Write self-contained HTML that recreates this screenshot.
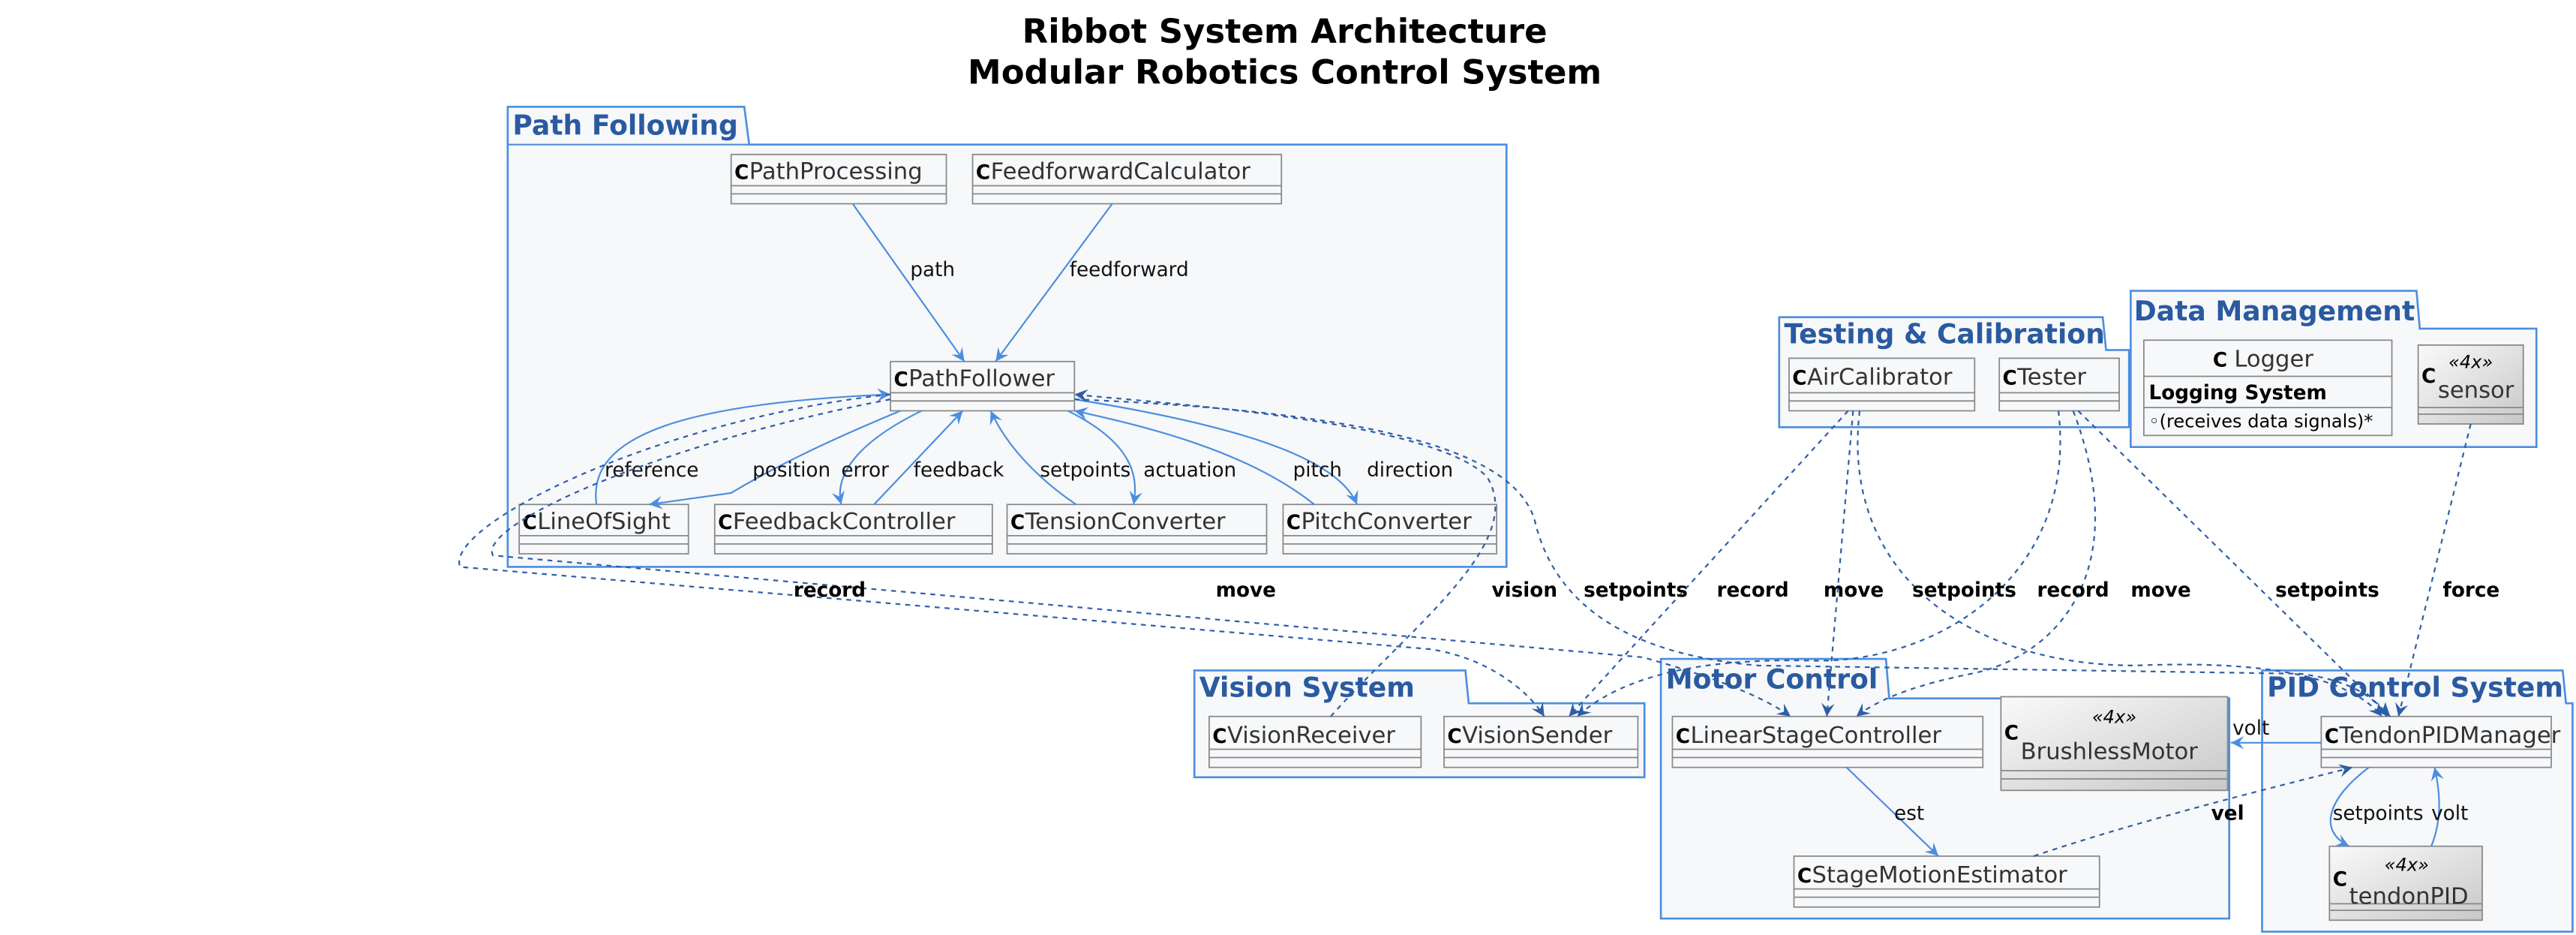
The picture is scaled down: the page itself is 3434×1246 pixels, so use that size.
<!DOCTYPE html>
<html><head><meta charset="utf-8"><style>
html,body{margin:0;padding:0;background:#fff}
svg{display:block}
text{font-family:"DejaVu Sans","Liberation Sans",sans-serif}
.t{font-size:20.5px;font-weight:bold;fill:#000}
.pk{fill:#f7f8fa;stroke:#4a8ee0;stroke-width:1.2}
.pt{font-size:16.5px;font-weight:bold;fill:#2a5aa0}
.cb{fill:#f7f8fa;stroke:#888;stroke-width:0.8}
.cg{stroke:#888;stroke-width:0.8}
.cn{font-size:14px;fill:#333}
.ci{font-size:12px;font-weight:bold;fill:#000}
.l{font-size:12px;fill:#111}
.lb{font-size:12px;font-weight:bold;fill:#000}
.s{fill:none;stroke:#4a8ee0;stroke-width:1}
.d{fill:none;stroke:#2d5ea8;stroke-width:1;stroke-dasharray:3,3}
</style></head><body>
<svg width="3434" height="1246" viewBox="0 0 1568 569" xmlns="http://www.w3.org/2000/svg">
<defs>
<marker id="a" markerWidth="10" markerHeight="10" refX="8" refY="4" orient="auto" markerUnits="userSpaceOnUse"><path d="M0,0 L8,4 L0,8 L3,4 Z" fill="#4a8ee0"/></marker>
<marker id="b" markerWidth="10" markerHeight="10" refX="8" refY="4" orient="auto" markerUnits="userSpaceOnUse"><path d="M0,0 L8,4 L0,8 L3,4 Z" fill="#2d5ea8"/></marker>
<linearGradient id="g" x1="0" y1="0" x2="1" y2="1"><stop offset="0" stop-color="#fafafa"/><stop offset="1" stop-color="#c8c8c8"/></linearGradient>
</defs>
<text class="t" x="782" y="26" text-anchor="middle">Ribbot System Architecture</text>
<text class="t" x="782" y="51" text-anchor="middle">Modular Robotics Control System</text>

<path class="pk" d="M309,88 L309,65 L453,65 L456,88 L917,88 L917,345 L309,345 Z"/>
<line x1="309" y1="88" x2="456" y2="88" stroke="#4a8ee0"/>
<text class="pt" x="312" y="82">Path Following</text>

<path class="pk" d="M1083,213 L1083,193 L1280,193 L1282,213 L1296,213 L1296,260 L1083,260 Z"/>
<text class="pt" x="1086" y="209">Testing &amp; Calibration</text>

<path class="pk" d="M1297,200 L1297,177 L1471,177 L1473,200 L1544,200 L1544,272 L1297,272 Z"/>
<text class="pt" x="1299" y="195">Data Management</text>

<path class="pk" d="M727,428 L727,408 L892,408 L894,428 L1001,428 L1001,473 L727,473 Z"/>
<text class="pt" x="730" y="424">Vision System</text>

<path class="pk" d="M1011,425 L1011,401 L1148,401 L1150,425 L1357,425 L1357,559 L1011,559 Z"/>
<text class="pt" x="1014" y="419">Motor Control</text>

<path class="pk" d="M1377,428 L1377,408 L1560,408 L1562,428 L1566,428 L1566,567 L1377,567 Z"/>
<text class="pt" x="1380" y="424">PID Control System</text>

<g>
<rect class="cb" x="445" y="94" width="131" height="30"/><line class="cg" x1="445" y1="113" x2="576" y2="113"/><line class="cg" x1="445" y1="118" x2="576" y2="118"/>
<text class="ci" x="447" y="109">C</text><text class="cn" x="456" y="109">PathProcessing</text>
<rect class="cb" x="592" y="94" width="188" height="30"/><line class="cg" x1="592" y1="113" x2="780" y2="113"/><line class="cg" x1="592" y1="118" x2="780" y2="118"/>
<text class="ci" x="594" y="109">C</text><text class="cn" x="603" y="109">FeedforwardCalculator</text>
<rect class="cb" x="542" y="220" width="112" height="30"/><line class="cg" x1="542" y1="239" x2="654" y2="239"/><line class="cg" x1="542" y1="244" x2="654" y2="244"/>
<text class="ci" x="544" y="235">C</text><text class="cn" x="553" y="235">PathFollower</text>
<rect class="cb" x="316" y="307" width="103" height="30"/><line class="cg" x1="316" y1="326" x2="419" y2="326"/><line class="cg" x1="316" y1="331" x2="419" y2="331"/>
<text class="ci" x="318" y="322">C</text><text class="cn" x="327" y="322">LineOfSight</text>
<rect class="cb" x="435" y="307" width="169" height="30"/><line class="cg" x1="435" y1="326" x2="604" y2="326"/><line class="cg" x1="435" y1="331" x2="604" y2="331"/>
<text class="ci" x="437" y="322">C</text><text class="cn" x="446" y="322">FeedbackController</text>
<rect class="cb" x="613" y="307" width="158" height="30"/><line class="cg" x1="613" y1="326" x2="771" y2="326"/><line class="cg" x1="613" y1="331" x2="771" y2="331"/>
<text class="ci" x="615" y="322">C</text><text class="cn" x="624" y="322">TensionConverter</text>
<rect class="cb" x="781" y="307" width="130" height="30"/><line class="cg" x1="781" y1="326" x2="911" y2="326"/><line class="cg" x1="781" y1="331" x2="911" y2="331"/>
<text class="ci" x="783" y="322">C</text><text class="cn" x="792" y="322">PitchConverter</text>

<rect class="cb" x="1089" y="218" width="113" height="32"/><line class="cg" x1="1089" y1="239" x2="1202" y2="239"/><line class="cg" x1="1089" y1="244" x2="1202" y2="244"/>
<text class="ci" x="1091" y="234">C</text><text class="cn" x="1100" y="234">AirCalibrator</text>
<rect class="cb" x="1217" y="218" width="73" height="32"/><line class="cg" x1="1217" y1="239" x2="1290" y2="239"/><line class="cg" x1="1217" y1="244" x2="1290" y2="244"/>
<text class="ci" x="1219" y="234">C</text><text class="cn" x="1228" y="234">Tester</text>

<rect class="cb" x="1305" y="207" width="151" height="58"/><line class="cg" x1="1305" y1="229" x2="1456" y2="229"/><line class="cg" x1="1305" y1="248" x2="1456" y2="248"/>
<text class="ci" x="1347" y="223">C</text><text class="cn" x="1360" y="223">Logger</text>
<text x="1308" y="243" style="font-size:12px;font-weight:bold">Logging System</text>
<text x="1308" y="260" style="font-size:11px">◦(receives data signals)*</text>
<rect x="1472" y="210" width="64" height="48" fill="url(#g)" stroke="#888" stroke-width="0.8"/><line class="cg" x1="1472" y1="248" x2="1536" y2="248"/><line class="cg" x1="1472" y1="252" x2="1536" y2="252"/>
<text x="1504" y="224" text-anchor="middle" style="font-size:11px;font-style:italic">«4x»</text>
<text class="ci" x="1474" y="233">C</text><text class="cn" x="1484" y="242">sensor</text>

<rect class="cb" x="736" y="436" width="129" height="31"/><line class="cg" x1="736" y1="456" x2="865" y2="456"/><line class="cg" x1="736" y1="461" x2="865" y2="461"/>
<text class="ci" x="738" y="452">C</text><text class="cn" x="747" y="452">VisionReceiver</text>
<rect class="cb" x="879" y="436" width="118" height="31"/><line class="cg" x1="879" y1="456" x2="997" y2="456"/><line class="cg" x1="879" y1="461" x2="997" y2="461"/>
<text class="ci" x="881" y="452">C</text><text class="cn" x="890" y="452">VisionSender</text>

<rect class="cb" x="1018" y="436" width="189" height="31"/><line class="cg" x1="1018" y1="456" x2="1207" y2="456"/><line class="cg" x1="1018" y1="461" x2="1207" y2="461"/>
<text class="ci" x="1020" y="452">C</text><text class="cn" x="1029" y="452">LinearStageController</text>
<rect x="1218" y="424" width="138" height="57" fill="url(#g)" stroke="#888" stroke-width="0.8"/><line class="cg" x1="1218" y1="469" x2="1356" y2="469"/><line class="cg" x1="1218" y1="474" x2="1356" y2="474"/>
<text x="1287" y="440" text-anchor="middle" style="font-size:11px;font-style:italic">«4x»</text>
<text class="ci" x="1220" y="450">C</text><text class="cn" x="1230" y="462">BrushlessMotor</text>
<rect class="cb" x="1092" y="521" width="186" height="31"/><line class="cg" x1="1092" y1="541" x2="1278" y2="541"/><line class="cg" x1="1092" y1="546" x2="1278" y2="546"/>
<text class="ci" x="1094" y="537">C</text><text class="cn" x="1103" y="537">StageMotionEstimator</text>

<rect class="cb" x="1413" y="436" width="140" height="31"/><line class="cg" x1="1413" y1="456" x2="1553" y2="456"/><line class="cg" x1="1413" y1="461" x2="1553" y2="461"/>
<text class="ci" x="1415" y="452">C</text><text class="cn" x="1424" y="452">TendonPIDManager</text>
<rect x="1418" y="515" width="93" height="45" fill="url(#g)" stroke="#888" stroke-width="0.8"/><line class="cg" x1="1418" y1="550" x2="1511" y2="550"/><line class="cg" x1="1418" y1="554" x2="1511" y2="554"/>
<text x="1465" y="530" text-anchor="middle" style="font-size:11px;font-style:italic">«4x»</text>
<text class="ci" x="1420" y="539">C</text><text class="cn" x="1430" y="550">tendonPID</text>
</g>

<path class="s" marker-end="url(#a)" d="M519,124 L587,220"/>
<path class="s" marker-end="url(#a)" d="M677,124 L606,220"/>
<path class="s" marker-end="url(#a)" d="M363,307 C358,270 400,246 542,240"/>
<path class="s" marker-end="url(#a)" d="M548,250 C500,270 470,285 445,300 L395,307"/>
<path class="s" marker-end="url(#a)" d="M561,250 C520,270 508,290 512,307"/>
<path class="s" marker-end="url(#a)" d="M532,307 L586,250"/>
<path class="s" marker-end="url(#a)" d="M655,307 C630,290 612,270 603,250"/>
<path class="s" marker-end="url(#a)" d="M650,250 C690,270 693,290 690,307"/>
<path class="s" marker-end="url(#a)" d="M800,307 C760,275 700,260 654,250"/>
<path class="s" marker-end="url(#a)" d="M654,243 C760,260 815,280 826,307"/>
<text class="l" x="368" y="290">reference</text>
<text class="l" x="458" y="290">position</text>
<text class="l" x="512" y="290">error</text>
<text class="l" x="556" y="290">feedback</text>
<text class="l" x="633" y="290">setpoints</text>
<text class="l" x="696" y="290">actuation</text>
<text class="l" x="787" y="290">pitch</text>
<text class="l" x="832" y="290">direction</text>
<text class="l" x="554" y="168">path</text>
<text class="l" x="651" y="168">feedforward</text>

<path class="d" marker-end="url(#b)" d="M542,240 C400,255 270,320 280,345 L870,395 C905,400 930,420 940,436"/>
<path class="d" marker-end="url(#b)" d="M542,243 C400,270 290,320 300,338 L1000,400 Q1065,418 1090,436"/>
<path class="d" marker-end="url(#b)" d="M810,436 C860,380 930,330 905,290 C870,255 700,245 654,240"/>
<path class="d" marker-end="url(#b)" d="M654,243 C820,250 925,270 935,320 Q955,395 1070,405 L1400,410 Q1440,415 1453,436"/>
<path class="d" marker-end="url(#b)" d="M1125,250 L955,436"/>
<path class="d" marker-end="url(#b)" d="M1128,250 L1112,436"/>
<path class="d" marker-end="url(#b)" d="M1132,250 C1120,350 1200,405 1300,405 Q1420,400 1450,436"/>
<path class="d" marker-end="url(#b)" d="M1253,250 C1265,350 1180,405 1100,402 Q1000,400 960,436"/>
<path class="d" marker-end="url(#b)" d="M1262,250 C1300,350 1250,400 1200,410 Q1150,420 1130,436"/>
<path class="d" marker-end="url(#b)" d="M1265,250 L1455,436"/>
<path class="d" marker-end="url(#b)" d="M1504,258 L1460,436"/>
<text class="lb" x="483" y="363">record</text>
<text class="lb" x="740" y="363">move</text>
<text class="lb" x="908" y="363">vision</text>
<text class="lb" x="964" y="363">setpoints</text>
<text class="lb" x="1045" y="363">record</text>
<text class="lb" x="1110" y="363">move</text>
<text class="lb" x="1164" y="363">setpoints</text>
<text class="lb" x="1240" y="363">record</text>
<text class="lb" x="1297" y="363">move</text>
<text class="lb" x="1385" y="363">setpoints</text>
<text class="lb" x="1487" y="363">force</text>

<path class="s" marker-end="url(#a)" d="M1413,452 L1358,452"/>
<text class="l" x="1359" y="447">volt</text>
<path class="s" marker-end="url(#a)" d="M1124,467 L1180,521"/>
<text class="l" x="1153" y="499">est</text>
<path class="d" marker-end="url(#b)" d="M1238,521 C1300,500 1380,480 1432,467"/>
<text class="lb" x="1346" y="499">vel</text>
<path class="s" marker-end="url(#a)" d="M1442,467 C1418,485 1410,505 1430,515"/>
<path class="s" marker-end="url(#a)" d="M1480,515 C1486,500 1486,485 1482,467"/>
<text class="l" x="1420" y="499">setpoints</text>
<text class="l" x="1480" y="499">volt</text>
</svg>
</body></html>
